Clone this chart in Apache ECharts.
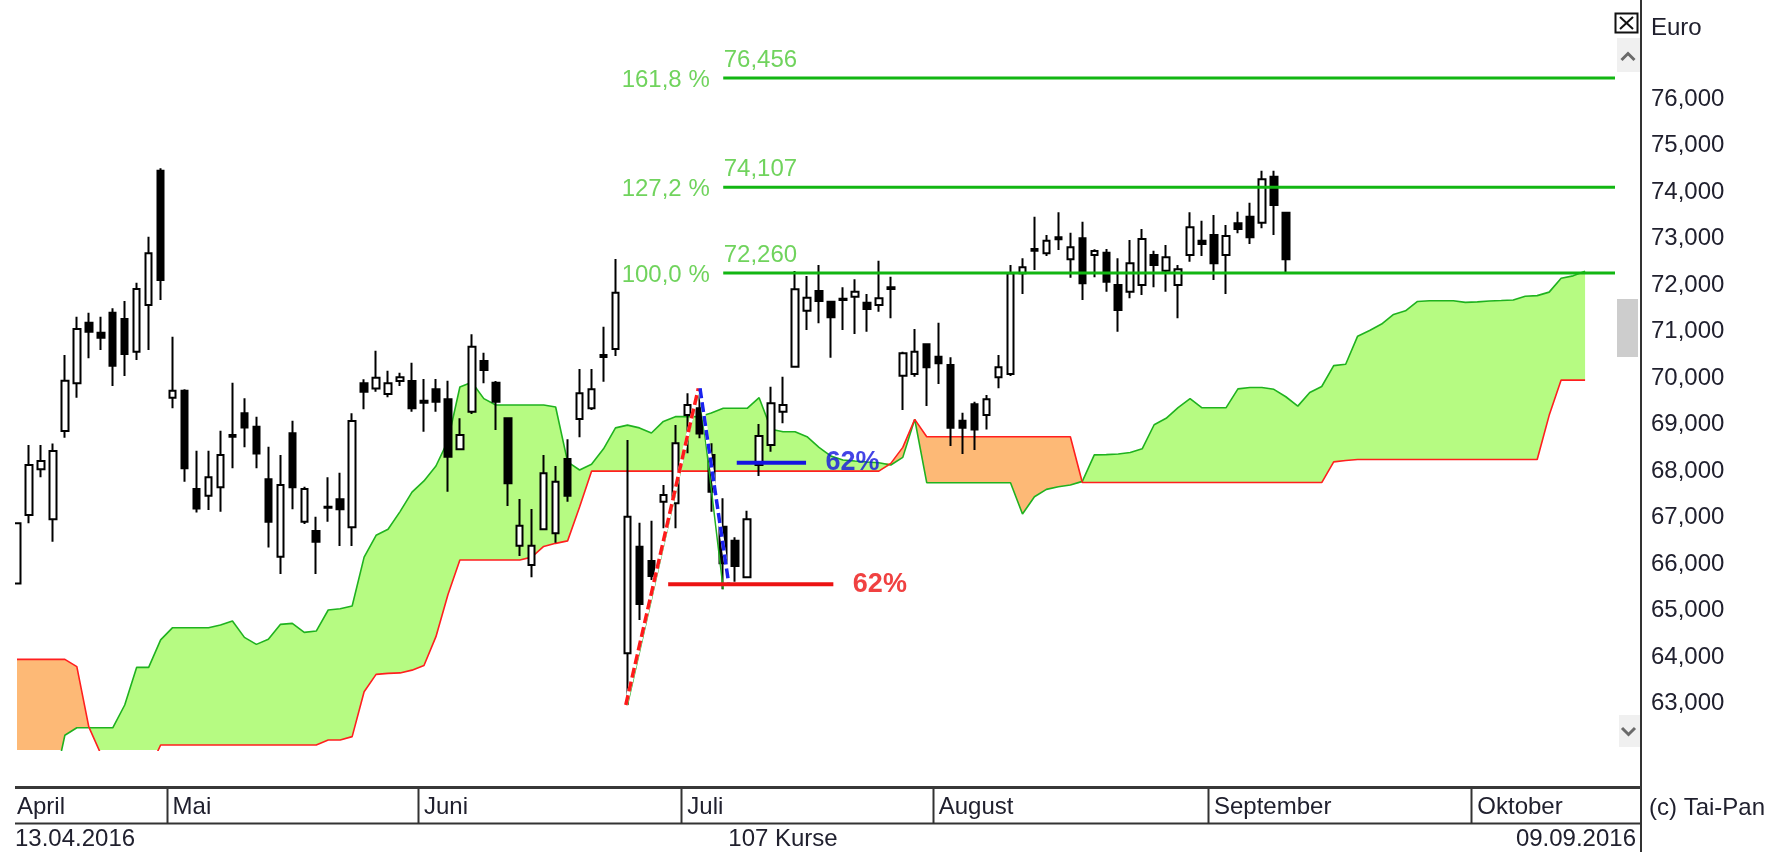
<!DOCTYPE html>
<html>
<head>
<meta charset="utf-8">
<title>Kursverlauf mit Ichimoku-Wolke</title>
<script src="https://cdn.jsdelivr.net/npm/echarts@6/dist/echarts.min.js"></script>
<style>
  html, body { margin: 0; padding: 0; background: #fff; }
  #chart { width: 1771px; height: 852px; }
</style>
</head>
<body>
<div id="chart"></div>
<script>
// ---- trading calendar -------------------------------------------------
const firstDay = '2016-04-13';
const closedDays = ['2016-05-16'];
const slotCount = 134;               // 107 sessions + projected cloud + right margin
const monthNames = ['Januar', 'Februar', 'März', 'April', 'Mai', 'Juni', 'Juli',
                    'August', 'September', 'Oktober', 'November', 'Dezember'];

// ---- daily prices (Euro) ------------------------------------------------
const openP = [
  65.585, 67.056, 68.038, 66.963, 68.863, 69.888, 71.193, 70.978, 71.408, 71.272,
  70.569, 71.573, 74.462, 69.580, 69.730, 67.615, 67.472, 67.651, 68.777, 69.243,
  68.956, 67.823, 66.160, 68.813, 66.913, 66.712, 67.235, 67.393, 66.791, 69.888,
  69.780, 69.659, 69.939, 69.939, 69.516, 69.759, 69.544, 68.469, 69.279, 70.369,
  69.903, 69.136, 66.397, 65.981, 66.748, 66.662, 68.261, 69.121, 69.351, 70.498,
  70.626, 64.081, 66.375, 66.067, 67.343, 67.307, 69.207, 69.350, 68.347, 66.805,
  66.504, 65.716, 68.131, 68.561, 69.279, 70.246, 71.451, 71.874, 71.645, 71.709,
  71.752, 71.623, 71.573, 71.953, 70.053, 70.089, 70.727, 70.462, 70.282, 69.085,
  69.436, 69.207, 70.017, 70.089, 72.254, 72.778, 72.684, 73.029, 72.555, 73.007,
  72.648, 72.699, 72.003, 71.860, 72.003, 72.648, 72.311, 72.003, 72.648, 72.957,
  73.079, 72.648, 73.330, 73.473, 73.344, 74.333, 73.559
];
const highP = [
  66.877, 68.561, 68.561, 68.597, 70.497, 71.322, 71.408, 71.322, 71.501, 71.659,
  72.053, 73.043, 74.513, 70.892, 69.760, 68.440, 68.440, 68.870, 69.903, 69.565,
  69.171, 68.526, 68.347, 69.085, 67.665, 67.020, 67.866, 67.966, 69.243, 69.974,
  70.590, 70.160, 70.118, 70.333, 69.982, 69.982, 69.946, 69.136, 70.943, 70.548,
  69.939, 69.140, 67.400, 67.185, 68.347, 68.110, 68.684, 70.197, 70.197, 71.107,
  72.562, 68.670, 66.891, 66.934, 67.702, 68.992, 69.673, 69.781, 68.598, 67.415,
  66.576, 67.150, 69.013, 69.816, 70.031, 72.304, 72.197, 72.433, 71.666, 71.953,
  72.125, 71.810, 72.527, 72.182, 70.569, 71.057, 70.748, 71.193, 70.447, 69.257,
  69.494, 69.637, 70.497, 72.434, 72.577, 73.473, 73.079, 73.566, 73.129, 73.365,
  72.770, 72.778, 72.577, 72.971, 73.208, 72.742, 72.864, 72.434, 73.566, 73.387,
  73.509, 73.294, 73.581, 73.774, 74.462, 74.462, 73.559
];
const lowP = [
  65.585, 66.877, 67.866, 66.482, 68.719, 69.580, 70.426, 70.605, 69.831, 70.046,
  70.390, 70.605, 71.680, 69.350, 67.773, 67.113, 67.163, 67.127, 68.060, 68.512,
  68.060, 66.360, 65.787, 67.178, 66.862, 65.787, 66.913, 66.389, 66.389, 69.329,
  69.709, 69.587, 69.831, 69.279, 68.849, 69.279, 67.558, 68.455, 69.229, 69.889,
  68.885, 67.250, 66.174, 65.716, 66.734, 66.461, 67.343, 68.727, 69.315, 69.925,
  70.476, 62.970, 64.798, 65.658, 66.770, 66.770, 68.383, 68.705, 67.128, 65.460,
  65.622, 65.694, 67.895, 68.418, 69.028, 70.232, 71.035, 71.179, 70.440, 71.035,
  70.949, 71.000, 71.430, 71.286, 69.315, 70.031, 69.401, 69.874, 68.540, 68.368,
  68.454, 68.898, 69.781, 70.046, 71.810, 72.326, 72.627, 72.756, 72.161, 71.681,
  72.168, 71.860, 70.999, 71.716, 71.788, 71.953, 71.860, 71.286, 72.505, 72.627,
  72.111, 71.810, 73.115, 72.885, 73.222, 73.079, 72.254
];
const closeP = [
  66.877, 68.131, 68.217, 68.432, 69.945, 71.057, 71.000, 70.870, 70.268, 70.519,
  71.917, 72.684, 72.111, 69.730, 68.060, 67.199, 67.866, 68.347, 68.741, 68.941,
  68.382, 66.913, 67.701, 67.651, 67.615, 66.482, 67.214, 67.178, 69.078, 69.709,
  70.010, 69.888, 70.018, 69.351, 69.473, 69.494, 68.311, 68.777, 70.677, 70.175,
  69.494, 67.738, 66.827, 66.397, 67.953, 67.774, 67.472, 69.673, 69.759, 70.455,
  71.838, 67.021, 65.142, 65.744, 67.487, 68.598, 69.422, 68.812, 67.558, 66.017,
  65.959, 66.963, 68.755, 69.458, 69.422, 71.910, 71.731, 71.659, 71.308, 71.681,
  71.860, 71.487, 71.716, 71.917, 70.533, 70.569, 70.232, 70.318, 68.934, 68.934,
  68.898, 69.544, 70.232, 72.254, 72.383, 72.742, 72.957, 72.986, 72.813, 72.039,
  72.734, 72.075, 71.466, 72.469, 72.993, 72.433, 72.598, 72.340, 73.244, 72.885,
  72.469, 73.057, 73.208, 73.029, 74.276, 73.724, 72.555
];

// ---- Ichimoku: Senkou Span A / B (already shifted forward) -----------------
const spanA = [
  61.150, 61.150, 61.150, 61.130, 62.320, 62.480, 62.480, 62.480, 62.480, 62.970,
  63.780, 63.780, 64.370, 64.633, 64.633, 64.633, 64.633, 64.690, 64.776, 64.425,
  64.274, 64.382, 64.704, 64.726, 64.532, 64.561, 65.013, 65.041, 65.099, 66.150,
  66.620, 66.750, 67.130, 67.550, 67.790, 68.110, 68.650, 69.810, 69.910, 69.560,
  69.422, 69.422, 69.422, 69.422, 69.422, 69.380, 68.200, 68.024, 68.150, 68.480,
  68.930, 68.990, 68.930, 68.820, 69.070, 69.172, 69.172, 69.172, 69.250, 69.351,
  69.351, 69.351, 69.580, 68.900, 68.848, 68.848, 68.741, 68.511, 68.325, 68.239,
  68.217, 68.196, 68.182, 68.131, 68.296, 69.114, 67.751, 67.751, 67.751, 67.751,
  67.751, 67.751, 67.751, 67.751, 67.077, 67.450, 67.608, 67.665, 67.701, 67.780,
  68.350, 68.355, 68.370, 68.400, 68.480, 68.998, 69.136, 69.367, 69.560, 69.362,
  69.362, 69.362, 69.770, 69.798, 69.798, 69.760, 69.600, 69.398, 69.690, 69.820,
  70.270, 70.300, 70.903, 71.025, 71.163, 71.370, 71.448, 71.650, 71.666, 71.666,
  71.666, 71.630, 71.640, 71.660, 71.670, 71.681, 71.760, 71.775, 71.850, 72.150,
  72.200, 72.300
];
const spanB = [
  63.951, 63.951, 63.951, 63.951, 63.951, 63.794, 62.500, 61.920, 61.560, 61.560,
  61.560, 61.560, 62.109, 62.109, 62.109, 62.109, 62.109, 62.109, 62.109, 62.109,
  62.109, 62.109, 62.109, 62.109, 62.109, 62.109, 62.216, 62.216, 62.290, 63.256,
  63.629, 63.651, 63.660, 63.720, 63.820, 64.440, 65.340, 66.089, 66.089, 66.089,
  66.089, 66.089, 66.089, 66.150, 66.380, 66.447, 66.500, 67.230, 68.000, 68.000,
  68.000, 68.000, 68.000, 68.000, 68.000, 68.000, 68.000, 68.000, 68.000, 68.000,
  68.000, 68.000, 68.000, 68.000, 68.000, 68.000, 68.000, 68.000, 68.000, 68.000,
  68.000, 68.000, 68.000, 68.167, 68.511, 69.114, 68.741, 68.741, 68.741, 68.741,
  68.741, 68.741, 68.741, 68.741, 68.741, 68.741, 68.741, 68.741, 68.741, 67.755,
  67.755, 67.755, 67.755, 67.755, 67.755, 67.755, 67.755, 67.755, 67.755, 67.755,
  67.755, 67.755, 67.755, 67.755, 67.755, 67.755, 67.755, 67.755, 67.755, 67.755,
  68.200, 68.230, 68.249, 68.249, 68.249, 68.249, 68.249, 68.249, 68.249, 68.249,
  68.249, 68.249, 68.249, 68.249, 68.249, 68.249, 68.249, 68.249, 69.200, 69.958,
  69.958, 69.958
];

// ---- Fibonacci projection ---------------------------------------------------
const fibLevels = [72.260, 74.107, 76.456];
const fibNames  = ['100,0 %', '127,2 %', '161,8 %'];
const fibFrom   = 59;

// ---- swing (zig-zag) and the two legs drawn over it ------------------------
const swingX = [51, 57, 59];
const swingY = [62.970, 69.781, 65.460];
const upLegX = [50.86, 56.92];
const upLegY = [62.970, 69.781];
const downLegX = [57.06, 59.45];
const downLegY = [69.781, 65.600];

// ---- 62 % retracement marks -------------------------------------------------
const retrLevels = [65.566, 68.181];
const retrFrom   = [54.4, 60.13];
const retrTo     = [68.2, 65.92];
const retrText   = ['62%', '62%'];
const retrColors = ['#ec1212', '#1414e0'];

// ---- price scale ------------------------------------------------------------
const yMin = 62, yMax = 78, yStep = 1;
const yLabelFrom = 63, yLabelTo = 76;

// ---------------------------------------------------------------------------
function tradingDays(startIso, count, skip) {
  const out = [];
  const d = new Date(startIso + 'T12:00:00Z');
  while (out.length < count) {
    const wd = d.getUTCDay();
    const iso = d.toISOString().slice(0, 10);
    if (wd !== 0 && wd !== 6 && skip.indexOf(iso) < 0) out.push(iso);
    d.setUTCDate(d.getUTCDate() + 1);
  }
  return out;
}
const days = tradingDays(firstDay, slotCount, closedDays);
const stripDays = days.concat(['', '']);
const monthStart = stripDays.map((d, i) =>
  i > 0 && d !== '' && d.slice(5, 7) !== stripDays[i - 1].slice(5, 7));
const monthLabel = stripDays.map((d, i) => i === 0 || monthStart[i]);
const monthStartIdx = monthStart.map((m, i) => m ? i : -1).filter(i => i >= 0);
const fmtDate = iso => iso.slice(8, 10) + '.' + iso.slice(5, 7) + '.' + iso.slice(0, 4);
const fmtNum = v => v.toFixed(3).replace('.', ',');

const FONT = '"Liberation Sans", Arial, Helvetica, sans-serif';
const TXT = '#20202e';
const plotLeft = 11, plotW = 1604;
const band = plotW / slotCount;
const plotTop = 6.2, plotH = 743.9;

const candleData = openP.map((o, i) => [o, closeP[i], lowP[i], highP[i]]);
const kumoBase = spanA.map((a, i) => Math.min(a, spanB[i]));
const kumoUp   = spanA.map((a, i) => Math.max(a - spanB[i], 0));
const kumoDown = spanA.map((a, i) => Math.max(spanB[i] - a, 0));

const series = [];
// cloud fill: invisible base + green (A over B) + orange (B over A)
series.push({ type: 'line', stack: 'kumo', data: kumoBase, symbol: 'none', silent: true,
  lineStyle: { width: 0, opacity: 0 } });
series.push({ type: 'line', stack: 'kumo', data: kumoUp, symbol: 'none', silent: true,
  lineStyle: { width: 0, opacity: 0 }, areaStyle: { color: '#b6fb82', opacity: 1 } });
series.push({ type: 'line', stack: 'kumo', data: kumoDown, symbol: 'none', silent: true,
  lineStyle: { width: 0, opacity: 0 }, areaStyle: { color: '#fdb976', opacity: 1 } });
series.push({ type: 'line', data: spanA, symbol: 'none', silent: true,
  lineStyle: { color: '#1fb21f', width: 1.6 } });
series.push({ type: 'line', data: spanB, symbol: 'none', silent: true,
  lineStyle: { color: '#ff1f1f', width: 1.6 } });

series.push({
  type: 'candlestick', data: candleData, barWidth: 7, silent: true, z: 3,
  itemStyle: { color: '#ffffff', color0: '#000000', borderColor: '#000000',
               borderColor0: '#000000', borderColorDoji: '#000000', borderWidth: 2 }
});

// Fibonacci lines with their labels
fibLevels.forEach((lv, k) => {
  series.push({ type: 'line', xAxisIndex: 1, z: 4, data: [[fibFrom, lv], [slotCount - 0.5, lv]],
    symbol: 'none', silent: true, lineStyle: { color: '#12b612', width: 3 } });
  series.push({ type: 'scatter', xAxisIndex: 1, z: 20, symbolSize: 1, silent: true,
    itemStyle: { color: 'transparent' },
    data: [
      { value: [fibFrom, lv], label: { show: true, position: 'left', distance: 13,
        formatter: fibNames[k], color: '#4cc834', fontFamily: FONT, fontSize: 24,
        offset: [0, 2] } },
      { value: [fibFrom, lv], label: { show: true, position: 'right', distance: 0,
        formatter: fmtNum(lv), color: '#4cc834', fontFamily: FONT, fontSize: 24,
        offset: [0, -18] } }
    ] });
});

// swing line and dashed legs
series.push({ type: 'line', xAxisIndex: 1, z: 5, symbol: 'none', silent: true,
  data: swingX.map((x, i) => [x, swingY[i]]), lineStyle: { color: '#22b022', width: 1.5 } });
[[upLegX, upLegY, '#ff1a1a'], [downLegX, downLegY, '#1a22ee']].forEach(([xs, ys, col]) => {
  const pts = xs.map((x, i) => [x, ys[i]]);
  series.push({ type: 'line', xAxisIndex: 1, z: 6, symbol: 'none', silent: true, data: pts,
    lineStyle: { color: '#ffffff', width: 3.5 } });
  series.push({ type: 'line', xAxisIndex: 1, z: 7, symbol: 'none', silent: true, data: pts,
    lineStyle: { color: col, width: 3.5, type: [10, 4], cap: 'butt' } });
});

// 62 % retracement lines and their labels
retrLevels.forEach((lv, k) => {
  series.push({ type: 'line', xAxisIndex: 1, z: 8, symbol: 'none', silent: true,
    data: [[retrFrom[k], lv], [retrTo[k], lv]],
    lineStyle: { color: retrColors[k], width: 4, cap: 'butt' } });
  series.push({ type: 'scatter', xAxisIndex: 1, z: 20, symbolSize: 1, silent: true,
    itemStyle: { color: 'transparent' },
    data: [{ value: [retrTo[k], lv], label: { show: true, position: 'right', distance: 19,
      formatter: retrText[k], color: retrColors[k], fontFamily: FONT, fontSize: 27,
      fontWeight: 'bold' } }] });
});

// month separators in the time strip, placed on each month's first session
series.push({
  type: 'custom', xAxisIndex: 2, yAxisIndex: 1, silent: true,
  data: monthStartIdx.map(i => [i, 0]),
  renderItem: (params, api) => {
    const cx = api.coord([api.value(0), 0])[0];
    const x = Math.round(cx - band / 2) + 0.5;
    const cs = params.coordSys;
    return { type: 'line', shape: { x1: x, y1: cs.y, x2: x, y2: cs.y + cs.height },
             style: { stroke: '#333', lineWidth: 2 } };
  }
});

const chart = echarts.init(document.getElementById('chart'), null, { renderer: 'canvas' });
chart.setOption({
  animation: false,
  backgroundColor: '#ffffff',
  grid: [
    { left: plotLeft, top: plotTop, width: plotW, height: plotH, outerBoundsMode: 'none' },
    { left: plotLeft, top: 787, width: band * stripDays.length, height: 36,
      outerBoundsMode: 'none' }
  ],
  xAxis: [
    { type: 'category', gridIndex: 0, data: days, boundaryGap: true, show: false },
    { type: 'value', gridIndex: 0, min: -0.5, max: slotCount - 0.5, show: false },
    { type: 'category', gridIndex: 1, data: stripDays, boundaryGap: true, position: 'bottom',
      axisLine: { show: false },
      axisTick: { show: false },
      splitLine: { show: false },
      axisLabel: { show: true, inside: true, interval: (i) => monthLabel[i],
                   formatter: (v) => v ? monthNames[+v.slice(5, 7) - 1] : '',
                   align: 'left', verticalAlign: 'middle', margin: 16,
                   fontFamily: FONT, fontSize: 24, color: TXT } }
  ],
  yAxis: [
    { type: 'value', gridIndex: 0, position: 'right', offset: 26, min: yMin, max: yMax,
      interval: yStep,
      axisLine: { show: false },
      axisTick: { show: false },
      axisLabel: { show: true, margin: 10, fontFamily: FONT, fontSize: 24, color: TXT,
                   verticalAlign: 'middle', padding: [0, 0, 4, 0],
                   formatter: (v) => (v >= yLabelFrom && v <= yLabelTo) ? fmtNum(v) : '' },
      splitLine: { show: false } },
    { type: 'value', gridIndex: 1, min: 0, max: 1, show: false }
  ],
  series: series,
  graphic: [
    // left clip edge of the plot
    { type: 'rect', z: 100, silent: true, shape: { x: 0, y: 0, width: 15, height: 786 },
      style: { fill: '#ffffff' } },
    // price axis line and time strip frame
    { type: 'line', z: 100, silent: true, shape: { x1: 1641, y1: 0, x2: 1641, y2: 852 },
      style: { stroke: '#333', lineWidth: 2 } },
    { type: 'line', z: 100, silent: true, shape: { x1: 15, y1: 787.5, x2: 1641, y2: 787.5 },
      style: { stroke: '#383838', lineWidth: 3 } },
    { type: 'line', z: 100, silent: true, shape: { x1: 15, y1: 823.5, x2: 1641, y2: 823.5 },
      style: { stroke: '#333', lineWidth: 2 } },
    // texts
    { type: 'text', z: 100, silent: true, x: 1651, y: 28,
      style: { text: 'Euro', fontFamily: FONT, fontSize: 24, fill: TXT,
               align: 'left', verticalAlign: 'middle' } },
    { type: 'text', z: 100, silent: true, x: 1649, y: 808,
      style: { text: '(c) Tai-Pan', fontFamily: FONT, fontSize: 24, fill: TXT,
               align: 'left', verticalAlign: 'middle' } },
    { type: 'text', z: 100, silent: true, x: 15, y: 839,
      style: { text: fmtDate(days[0]), fontFamily: FONT, fontSize: 24, fill: TXT,
               align: 'left', verticalAlign: 'middle' } },
    { type: 'text', z: 100, silent: true, x: 783, y: 839,
      style: { text: closeP.length + ' Kurse', fontFamily: FONT, fontSize: 24, fill: TXT,
               align: 'center', verticalAlign: 'middle' } },
    { type: 'text', z: 100, silent: true, x: 1636, y: 839,
      style: { text: fmtDate(days[closeP.length - 1]), fontFamily: FONT, fontSize: 24,
               fill: TXT, align: 'right', verticalAlign: 'middle' } },
    // close box
    { type: 'rect', z: 100, silent: true, shape: { x: 1615.5, y: 13.5, width: 22, height: 19 },
      style: { fill: '#fff', stroke: '#111', lineWidth: 2 } },
    { type: 'line', z: 101, silent: true, shape: { x1: 1620, y1: 17, x2: 1633, y2: 29 },
      style: { stroke: '#111', lineWidth: 2 } },
    { type: 'line', z: 101, silent: true, shape: { x1: 1633, y1: 17, x2: 1620, y2: 29 },
      style: { stroke: '#111', lineWidth: 2 } },
    // scroll bar
    { type: 'rect', z: 100, silent: true, shape: { x: 1617, y: 38, width: 23, height: 34 },
      style: { fill: '#f0f0f0' } },
    { type: 'polyline', z: 101, silent: true,
      shape: { points: [[1621.5, 60], [1628, 53.5], [1634.5, 60]] },
      style: { stroke: '#6a6a6a', lineWidth: 3, fill: null } },
    { type: 'rect', z: 100, silent: true, shape: { x: 1617, y: 299, width: 21, height: 58 },
      style: { fill: '#cdcdcd' } },
    { type: 'rect', z: 100, silent: true, shape: { x: 1619, y: 715, width: 21, height: 32 },
      style: { fill: '#f0f0f0' } },
    { type: 'polyline', z: 101, silent: true,
      shape: { points: [[1622, 728], [1628.5, 734.5], [1635, 728]] },
      style: { stroke: '#6a6a6a', lineWidth: 3, fill: null } }
  ]
});
</script>
</body>
</html>
